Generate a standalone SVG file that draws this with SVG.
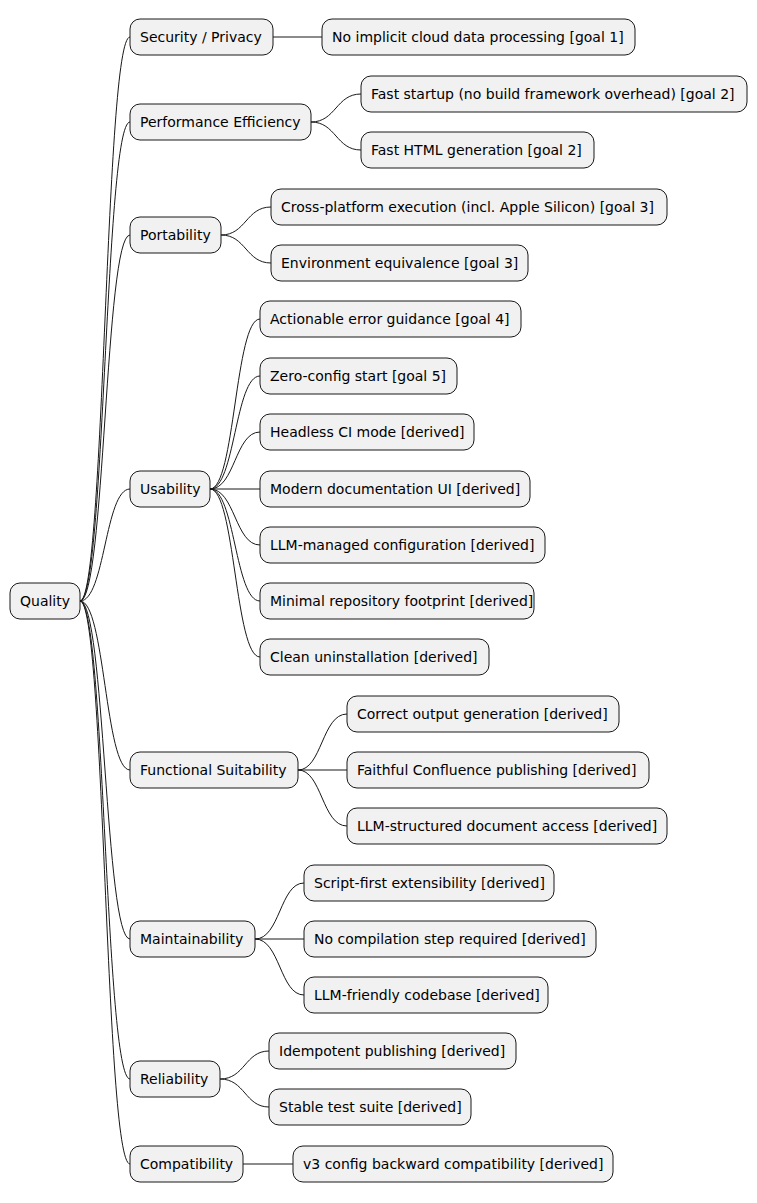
<svg xmlns="http://www.w3.org/2000/svg" width="757" height="1203" viewBox="0 0 757 1203">
<style>
.n rect{fill:#F1F1F1;stroke:#181818;stroke-width:1}
.n text{font-family:"DejaVu Sans",sans-serif;font-size:14px;fill:#000}
#edges path{fill:none;stroke:#181818;stroke-width:1}
</style>
<rect width="757" height="1203" fill="#fff"/>
<g id="edges">
<path d="M80,601 C105,601 105,37 130,37"/>
<path d="M80,601 C105,601 105,122 130,122"/>
<path d="M80,601 C105,601 105,235 130,235"/>
<path d="M80,601 C105,601 105,489 130,489"/>
<path d="M80,601 C105,601 105,770 130,770"/>
<path d="M80,601 C105,601 105,939 130,939"/>
<path d="M80,601 C105,601 105,1079 130,1079"/>
<path d="M80,601 C105,601 105,1164 130,1164"/>
<path d="M273,37 L322,37"/>
<path d="M311,122 C336,122 336,94 361,94"/>
<path d="M311,122 C336,122 336,150 361,150"/>
<path d="M221,235 C246,235 246,207 271,207"/>
<path d="M221,235 C246,235 246,263 271,263"/>
<path d="M210,489 C235,489 235,319 260,319"/>
<path d="M210,489 C235,489 235,376 260,376"/>
<path d="M210,489 C235,489 235,432 260,432"/>
<path d="M210,489 L260,489"/>
<path d="M210,489 C235,489 235,545 260,545"/>
<path d="M210,489 C235,489 235,601 260,601"/>
<path d="M210,489 C235,489 235,657 260,657"/>
<path d="M298,770 C322,770 322,714 347,714"/>
<path d="M298,770 L347,770"/>
<path d="M298,770 C322,770 322,826 347,826"/>
<path d="M255,939 C280,939 280,883 304,883"/>
<path d="M255,939 L304,939"/>
<path d="M255,939 C280,939 280,995 304,995"/>
<path d="M220,1079 C245,1079 245,1051 269,1051"/>
<path d="M220,1079 C245,1079 245,1107 269,1107"/>
<path d="M243,1164 L293,1164"/>
</g>
<g id="quality" class="n"><rect x="10" y="583" width="70" height="36" rx="10"/><text x="20" y="606">Quality</text></g>
<g id="security" class="n"><rect x="130" y="19" width="143" height="36" rx="10"/><text x="140" y="42">Security / Privacy</text></g>
<g id="sec1" class="n"><rect x="322" y="19" width="313" height="36" rx="10"/><text x="332" y="42">No implicit cloud data processing [goal 1]</text></g>
<g id="perf" class="n"><rect x="130" y="104" width="181" height="36" rx="10"/><text x="140" y="127">Performance Efficiency</text></g>
<g id="perf1" class="n"><rect x="361" y="76" width="386" height="36" rx="10"/><text x="371" y="99">Fast startup (no build framework overhead) [goal 2]</text></g>
<g id="perf2" class="n"><rect x="361" y="132" width="233" height="36" rx="10"/><text x="371" y="155">Fast HTML generation [goal 2]</text></g>
<g id="port" class="n"><rect x="130" y="217" width="91" height="36" rx="10"/><text x="140" y="240">Portability</text></g>
<g id="port1" class="n"><rect x="271" y="189" width="396" height="36" rx="10"/><text x="281" y="212">Cross-platform execution (incl. Apple Silicon) [goal 3]</text></g>
<g id="port2" class="n"><rect x="271" y="245" width="257" height="36" rx="10"/><text x="281" y="268">Environment equivalence [goal 3]</text></g>
<g id="usab" class="n"><rect x="130" y="471" width="80" height="36" rx="10"/><text x="140" y="494">Usability</text></g>
<g id="us1" class="n"><rect x="260" y="301" width="261" height="36" rx="10"/><text x="270" y="324">Actionable error guidance [goal 4]</text></g>
<g id="us2" class="n"><rect x="260" y="358" width="197" height="36" rx="10"/><text x="270" y="381">Zero-config start [goal 5]</text></g>
<g id="us3" class="n"><rect x="260" y="414" width="214" height="36" rx="10"/><text x="270" y="437">Headless CI mode [derived]</text></g>
<g id="us4" class="n"><rect x="260" y="471" width="270" height="36" rx="10"/><text x="270" y="494">Modern documentation UI [derived]</text></g>
<g id="us5" class="n"><rect x="260" y="527" width="285" height="36" rx="10"/><text x="270" y="550">LLM-managed configuration [derived]</text></g>
<g id="us6" class="n"><rect x="260" y="583" width="274" height="36" rx="10"/><text x="270" y="606">Minimal repository footprint [derived]</text></g>
<g id="us7" class="n"><rect x="260" y="639" width="229" height="36" rx="10"/><text x="270" y="662">Clean uninstallation [derived]</text></g>
<g id="func" class="n"><rect x="130" y="752" width="168" height="36" rx="10"/><text x="140" y="775">Functional Suitability</text></g>
<g id="fn1" class="n"><rect x="347" y="696" width="272" height="36" rx="10"/><text x="357" y="719">Correct output generation [derived]</text></g>
<g id="fn2" class="n"><rect x="347" y="752" width="302" height="36" rx="10"/><text x="357" y="775">Faithful Confluence publishing [derived]</text></g>
<g id="fn3" class="n"><rect x="347" y="808" width="320" height="36" rx="10"/><text x="357" y="831">LLM-structured document access [derived]</text></g>
<g id="maint" class="n"><rect x="130" y="921" width="125" height="36" rx="10"/><text x="140" y="944">Maintainability</text></g>
<g id="mt1" class="n"><rect x="304" y="865" width="250" height="36" rx="10"/><text x="314" y="888">Script-first extensibility [derived]</text></g>
<g id="mt2" class="n"><rect x="304" y="921" width="292" height="36" rx="10"/><text x="314" y="944">No compilation step required [derived]</text></g>
<g id="mt3" class="n"><rect x="304" y="977" width="244" height="36" rx="10"/><text x="314" y="1000">LLM-friendly codebase [derived]</text></g>
<g id="rel" class="n"><rect x="130" y="1061" width="90" height="36" rx="10"/><text x="140" y="1084">Reliability</text></g>
<g id="rl1" class="n"><rect x="269" y="1033" width="247" height="36" rx="10"/><text x="279" y="1056">Idempotent publishing [derived]</text></g>
<g id="rl2" class="n"><rect x="269" y="1089" width="202" height="36" rx="10"/><text x="279" y="1112">Stable test suite [derived]</text></g>
<g id="compat" class="n"><rect x="130" y="1146" width="113" height="36" rx="10"/><text x="140" y="1169">Compatibility</text></g>
<g id="cp1" class="n"><rect x="293" y="1146" width="320" height="36" rx="10"/><text x="303" y="1169">v3 config backward compatibility [derived]</text></g>
</svg>
